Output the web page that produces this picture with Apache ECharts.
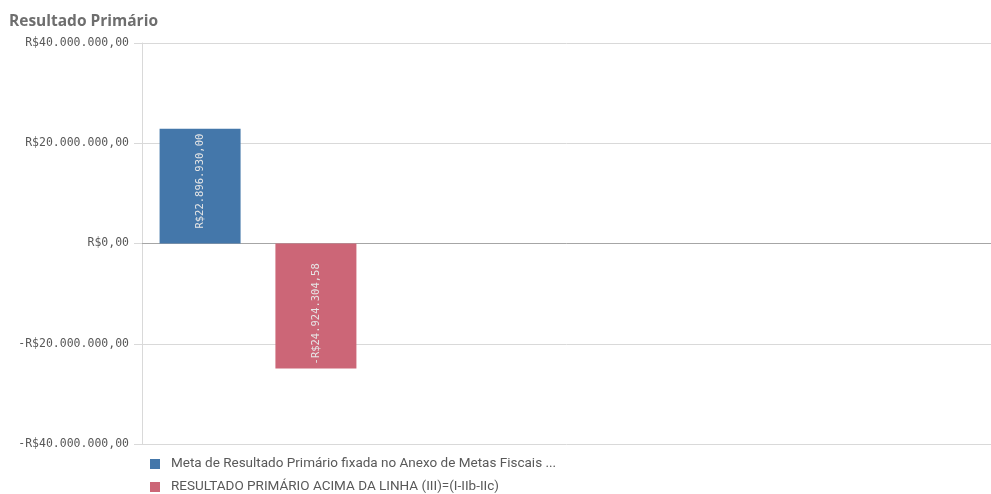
<!DOCTYPE html>
<html>
<head>
<meta charset="utf-8">
<script src="https://cdn.jsdelivr.net/npm/echarts@6/dist/echarts.min.js"></script>
<style>
  html, body { margin: 0; padding: 0; background: #fff; }
  #chart { width: 991px; height: 494px; }
</style>
</head>
<body>
<div id="chart"></div>
<script>
// Primary result: target vs. actual (single period)
const categories = [''];
const seriesNames = [
  'Meta de Resultado Primário fixada no Anexo de Metas Fiscais ...',
  'RESULTADO PRIMÁRIO ACIMA DA LINHA (III)=(I-IIb-IIc)'
];
const metaValues = [22896930.00];
const resultadoValues = [-24924304.58];
const yTicks = { min: -40000000, max: 40000000, interval: 20000000 };

// Brazilian currency: R$1.234.567,89
function brl(v) {
  const neg = v < 0;
  const parts = Math.abs(v).toFixed(2).split('.');
  const intPart = parts[0].replace(/\B(?=(\d{3})+(?!\d))/g, '.');
  return (neg ? '-' : '') + 'R$' + intPart + ',' + parts[1];
}

const mono = '"DejaVu Sans Mono", monospace';
const chart = echarts.init(document.getElementById('chart'));

chart.setOption({
  animation: false,
  title: {
    text: 'Resultado Primário',
    left: 9, top: 14, padding: 0,
    textStyle: { fontFamily: '"Open Sans", sans-serif', fontWeight: 'bold', fontSize: 15.5, color: '#6e6e6e' }
  },
  legend: {
    orient: 'vertical',
    left: 150, top: 457, height: 40, padding: 0,
    itemWidth: 10, itemHeight: 10, itemGap: 9,
    icon: 'rect',
    textStyle: { fontFamily: 'Roboto, sans-serif', fontSize: 13.5, color: '#595959', padding: [0, 0, 0, 6] },
    data: seriesNames
  },
  grid: [
    { left: 142, right: 0, top: 43, bottom: 50 },
    { left: 142, width: 232, top: 43, bottom: 50 }
  ],
  xAxis: [
    {
      gridIndex: 0, type: 'category', data: categories,
      axisLine: { onZero: true, lineStyle: { color: '#a6a6a6', width: 1 } },
      axisTick: { show: false }, axisLabel: { show: false }
    },
    {
      gridIndex: 1, type: 'category', data: categories,
      axisLine: { show: false }, axisTick: { show: false }, axisLabel: { show: false }
    }
  ],
  yAxis: [
    {
      gridIndex: 0, type: 'value',
      min: yTicks.min, max: yTicks.max, interval: yTicks.interval,
      axisLine: { show: true, lineStyle: { color: '#d9d9d9' } },
      axisTick: { show: true, length: 8, lineStyle: { color: '#d9d9d9' } },
      splitLine: { lineStyle: { color: '#d9d9d9' } },
      axisLabel: { formatter: brl, fontFamily: mono, fontSize: 11.5, color: '#595959', margin: 13 }
    },
    {
      gridIndex: 1, type: 'value',
      min: yTicks.min, max: yTicks.max, interval: yTicks.interval,
      show: false
    }
  ],
  series: [
    {
      name: seriesNames[0], type: 'bar',
      xAxisIndex: 1, yAxisIndex: 1,
      data: metaValues,
      barWidth: 81, barGap: '43%',
      itemStyle: { color: '#4477aa' },
      label: {
        show: true, position: 'insideTop', rotate: 90,
        align: 'right', verticalAlign: 'middle', distance: 5,
        formatter: p => brl(p.value),
        fontFamily: mono, fontSize: 10.5, color: '#e6e6e6'
      }
    },
    {
      name: seriesNames[1], type: 'bar',
      xAxisIndex: 1, yAxisIndex: 1,
      data: resultadoValues,
      barWidth: 81, barGap: '43%',
      itemStyle: { color: '#cc6677' },
      label: {
        show: true, position: 'insideBottom', rotate: 90,
        align: 'left', verticalAlign: 'middle', distance: 4,
        formatter: p => brl(p.value),
        fontFamily: mono, fontSize: 10.5, color: '#e6e6e6'
      }
    }
  ]
});
</script>
</body>
</html>
